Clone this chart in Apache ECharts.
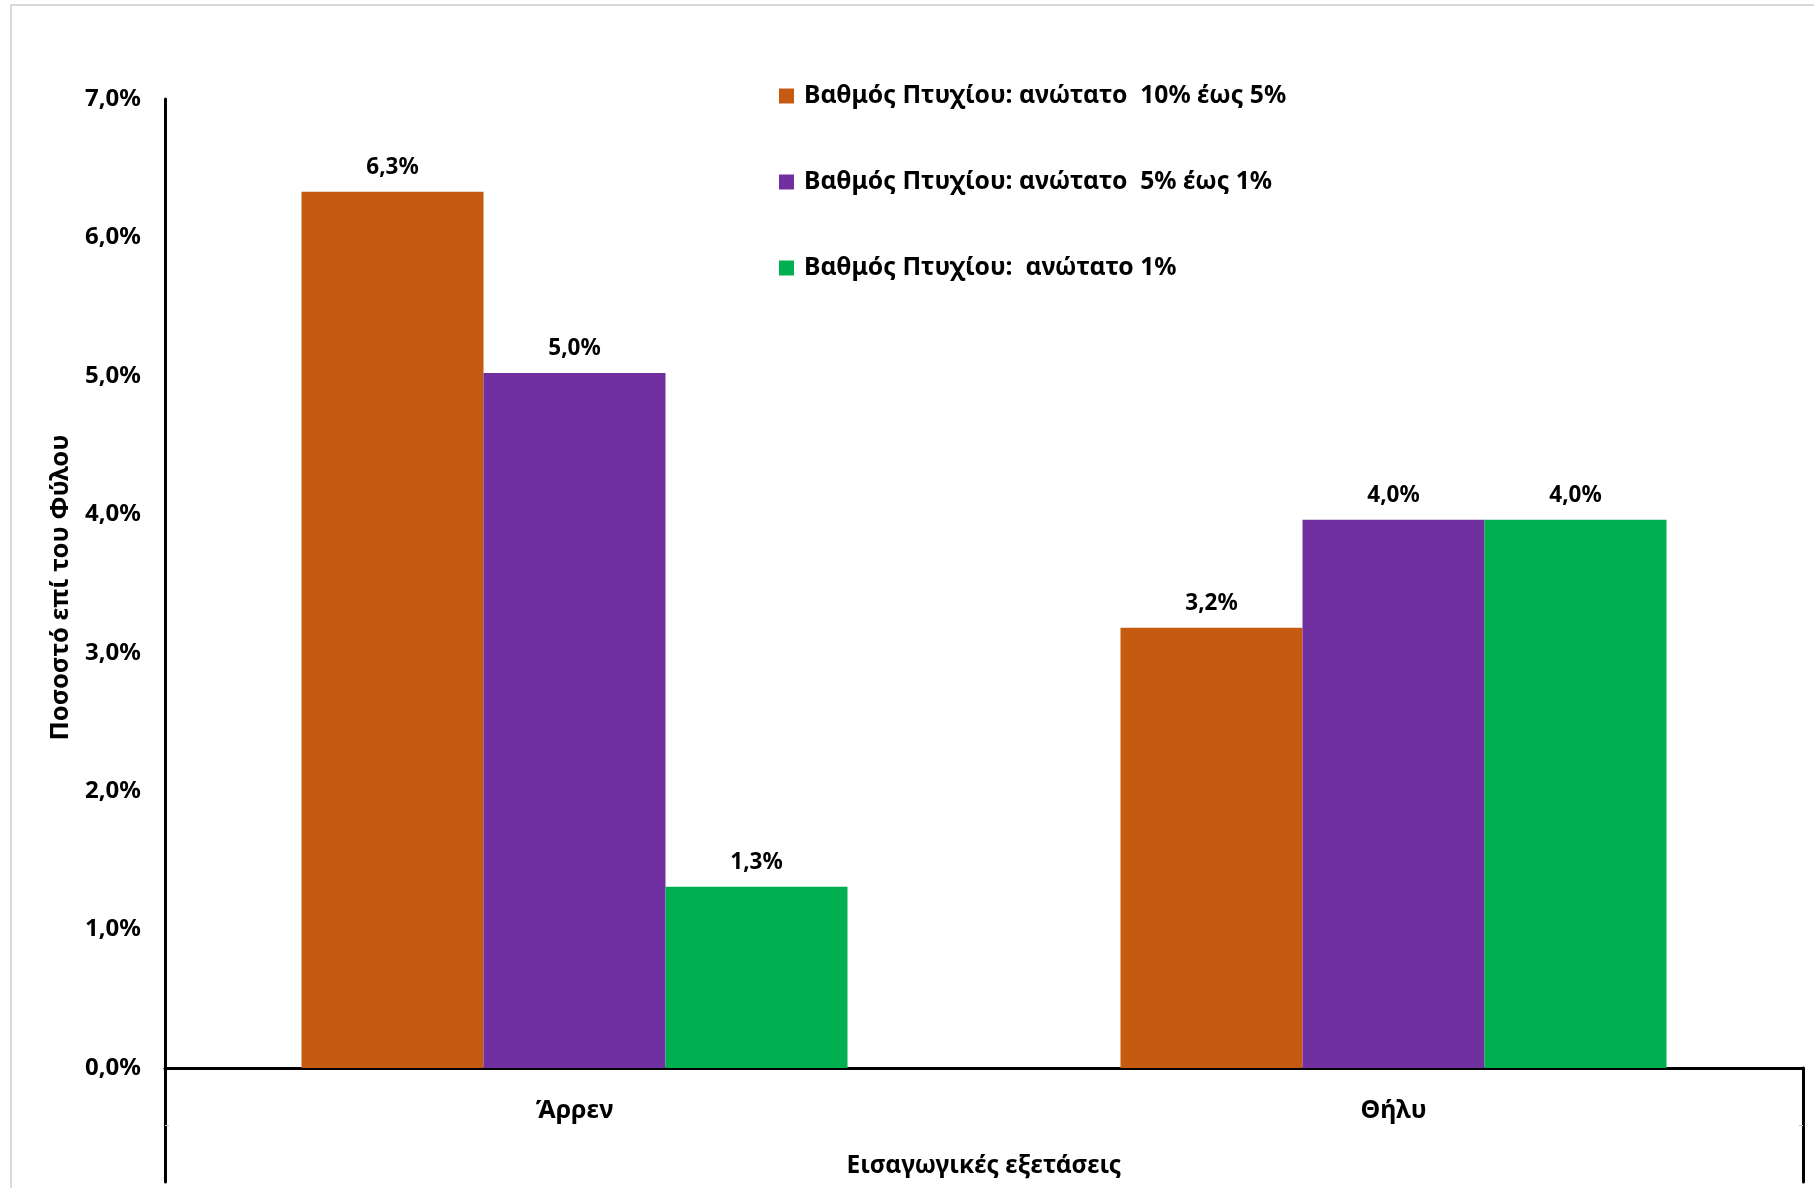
<!DOCTYPE html>
<html>
<head>
<meta charset="utf-8">
<script src="https://cdn.jsdelivr.net/npm/echarts@6/dist/echarts.min.js"></script>
<style>
html,body{margin:0;padding:0;background:#fff;}
#chart{width:1814px;height:1188px;}
</style>
</head>
<body>
<div id="chart"></div>
<script>
const categories = ['Άρρεν', 'Θήλυ'];
const seriesNames = [
  'Βαθμός Πτυχίου: ανώτατο  10% έως 5%',
  'Βαθμός Πτυχίου: ανώτατο  5% έως 1%',
  'Βαθμός Πτυχίου:  ανώτατο 1%'
];
const top10to5 = [6.33, 3.18];
const top5to1 = [5.02, 3.96];
const top1 = [1.31, 3.96];
const yTicks = { min: 0, max: 7, interval: 1 };
const xAxisTitle = 'Εισαγωγικές εξετάσεις';
const yAxisTitle = 'Ποσοστό επί του Φύλου';
const colors = ['#C55A11', '#7030A0', '#00B050'];

const FONT = 'Noto Sans';
const pct = v => v.toFixed(1).replace('.', ',') + '%';

const chart = echarts.init(document.getElementById('chart'), null, { renderer: 'canvas' });

function barSeries(name, data, color) {
  return {
    name: name,
    type: 'bar',
    xAxisIndex: 0,
    yAxisIndex: 0,
    data: data,
    barWidth: 182,
    barGap: '0%',
    itemStyle: { color: color },
    label: {
      show: true,
      position: 'top',
      distance: 13,
      fontFamily: FONT,
      fontWeight: 'bold',
      fontSize: 22.5,
      color: '#000',
      formatter: p => pct(p.value)
    }
  };
}

chart.setOption({
  animation: false,
  backgroundColor: '#fff',
  graphic: [{
    type: 'rect',
    shape: { x: 11, y: 5, width: 1830, height: 1210 },
    style: { fill: 'none', stroke: '#d9d9d9', lineWidth: 2 },
    silent: true,
    z: -10
  }],
  legend: {
    orient: 'vertical',
    left: 779,
    top: 82,
    padding: 0,
    itemGap: 58,
    itemWidth: 15,
    itemHeight: 15,
    icon: 'rect',
    data: seriesNames,
    textStyle: {
      fontFamily: FONT,
      fontWeight: 'bold',
      fontSize: 24.7,
      lineHeight: 28,
      color: '#000',
      padding: [0, 0, 0, 5]
    }
  },
  grid: [
    { left: 165, right: 11, top: 99, bottom: 120, containLabel: false },
    { left: 165, right: 11, top: 1068, height: 114, containLabel: false }
  ],
  xAxis: [{
    type: 'category',
    gridIndex: 0,
    data: categories,
    axisLine: { show: true, lineStyle: { color: '#000', width: 3 } },
    axisTick: { show: false },
    axisLabel: {
      margin: 30,
      fontFamily: FONT,
      fontWeight: 'bold',
      fontSize: 25,
      color: '#000'
    },
    name: xAxisTitle,
    nameLocation: 'middle',
    nameGap: 86,
    nameTextStyle: {
      fontFamily: FONT,
      fontWeight: 'bold',
      fontSize: 24.5,
      color: '#000'
    }
  }, {
    type: 'value',
    gridIndex: 1,
    show: false,
    min: 0,
    max: 1
  }],
  yAxis: [{
    type: 'value',
    gridIndex: 0,
    min: yTicks.min,
    max: yTicks.max,
    interval: yTicks.interval,
    splitLine: { show: false },
    axisTick: { show: false },
    axisLine: { show: true, lineStyle: { color: '#000', width: 3 } },
    axisLabel: {
      margin: 24,
      fontFamily: FONT,
      fontWeight: 'bold',
      fontSize: 24,
      color: '#000',
      formatter: v => pct(v)
    },
    name: yAxisTitle,
    nameLocation: 'middle',
    nameGap: 90,
    nameRotate: 90,
    nameTextStyle: {
      fontFamily: FONT,
      fontWeight: 'bold',
      fontSize: 25.5,
      color: '#000',
      padding: [0, 8, 0, 0]
    }
  }, {
    type: 'value',
    gridIndex: 1,
    position: 'left',
    min: 0,
    max: 2,
    interval: 1,
    splitLine: { show: false },
    axisLabel: { show: false },
    axisLine: { show: true, lineStyle: { color: '#000', width: 3 } },
    axisTick: { show: true, inside: true, length: 4, customValues: [1], lineStyle: { color: '#bfbfbf', width: 1 } }
  }, {
    type: 'value',
    gridIndex: 1,
    position: 'right',
    min: 0,
    max: 2,
    interval: 1,
    splitLine: { show: false },
    axisLabel: { show: false },
    axisLine: { show: true, lineStyle: { color: '#000', width: 3 } },
    axisTick: { show: true, inside: true, length: 4, customValues: [1], lineStyle: { color: '#bfbfbf', width: 1 } }
  }],
  series: [
    barSeries(seriesNames[0], top10to5, colors[0]),
    barSeries(seriesNames[1], top5to1, colors[1]),
    barSeries(seriesNames[2], top1, colors[2])
  ]
});
</script>
</body>
</html>
